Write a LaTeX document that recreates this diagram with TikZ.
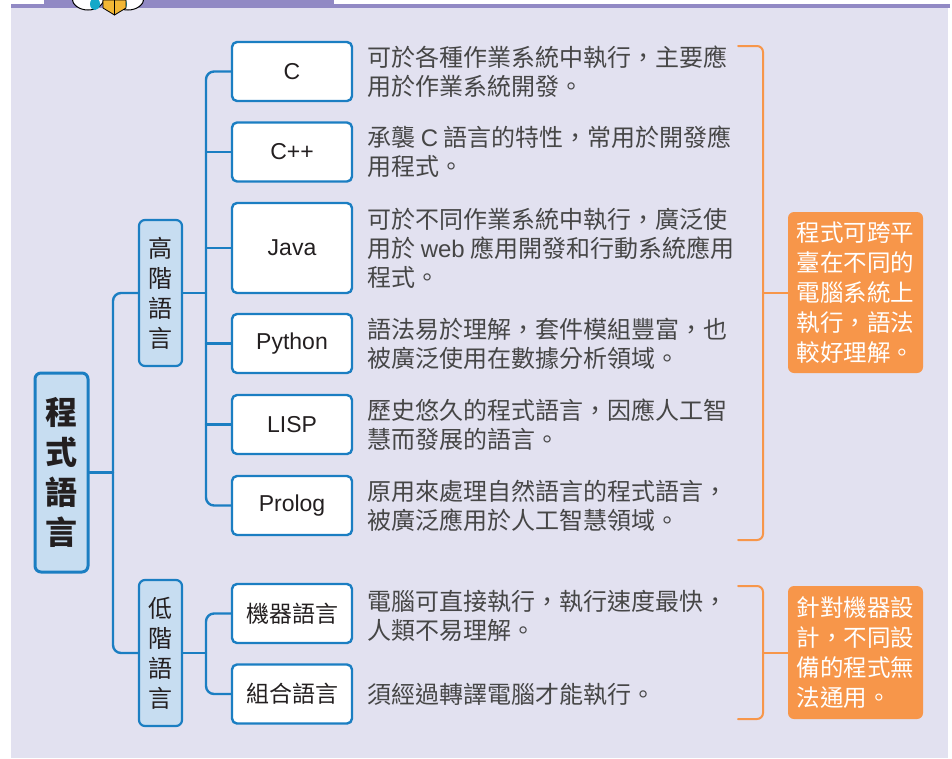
\documentclass[tikz,border=0pt]{standalone}
\usepackage{fontspec}
\setmainfont{Liberation Sans}
\newfontfamily\cjk{Noto Sans CJK TC}
\usetikzlibrary{positioning}

\definecolor{panelbg}{HTML}{E2E1F0}
\definecolor{bandpurple}{HTML}{9189C4}
\definecolor{lineblue}{HTML}{1B7EC2}
\definecolor{boxblue}{HTML}{C7DDF1}
\definecolor{noteorange}{HTML}{F7964A}
\definecolor{txtdark}{HTML}{231F20}
\definecolor{txtgray}{HTML}{464646}
\definecolor{bookyellow}{HTML}{F2B735}
\definecolor{eyecyan}{HTML}{14A9C9}

\tikzset{
  conn/.style={draw=lineblue,line width=2.4pt,rounded corners=8pt},
  brk/.style={draw=noteorange,line width=2pt,rounded corners=6pt},
  lang/.style={draw=lineblue,line width=2.4pt,fill=white,rounded corners=5pt,
    minimum width=120pt,minimum height=59pt,text=txtdark,
    font=\fontsize{23}{27}\selectfont},
  kind/.style={draw=lineblue,line width=2.2pt,fill=boxblue,rounded corners=6pt,
    minimum width=43pt,minimum height=146pt,align=center,inner sep=0pt,
    text=txtdark,font=\cjk\fontsize{24}{30}\selectfont},
  desc/.style={inner sep=0pt,align=left,text=txtgray,
    font=\cjk\fontsize{24}{29}\selectfont},
  note/.style={fill=noteorange,rounded corners=6pt,text=white,align=left,
    inner sep=0pt,minimum width=135pt,font=\cjk\fontsize{23.5}{30}\selectfont},
}

\begin{document}
\begin{tikzpicture}[x=1pt,y=-1pt,line cap=round,line join=round]
  \useasboundingbox (0,0) rectangle (952,758);
  % panel and title band
  \fill[panelbg] (11,7) rectangle (948,758);
  \fill[bandpurple] (44,0) rectangle (334,7);
  \fill[bandpurple] (11,4) rectangle (950,7.5);
  \draw[fill=white,line width=1pt] (88,-2) ellipse (16 and 12)
    (128,-2) ellipse (16 and 12);
  \fill[eyecyan] (95,4) ellipse (5 and 6) (122,4) ellipse (5 and 6);
  \draw[fill=bookyellow,line width=0.8pt] (103,0) -- (126,0) -- (126,8)
    -- (114.5,15) -- (103,8) -- cycle;
  \draw[line width=0.8pt] (114.5,0) -- (114.5,15);

  % root and the two kinds
  \node[kind,line width=3pt,minimum width=53pt,minimum height=199pt,
    font=\cjk\bfseries\fontsize{32}{40}\selectfont] (root) at (61.5,472.5)
    {程\\式\\語\\言};
  \node[kind] (high) at (160.5,293) {高\\階\\語\\言};
  \node[kind] (low) at (160.5,653) {低\\階\\語\\言};

  % languages
  \node[lang] (c) at (292,71.5) {C};
  \node[lang] (cpp) at (292,152) {C++};
  \node[lang,minimum height=90pt] (java) at (292,248) {Java};
  \node[lang] (py) at (292,343.5) {Python};
  \node[lang] (lisp) at (292,424.5) {LISP};
  \node[lang] (prolog) at (292,505.5) {Prolog};
  \node[lang,font=\cjk\fontsize{23}{27}\selectfont] (mach) at (292,613.5) {機器語言};
  \node[lang,font=\cjk\fontsize{23}{27}\selectfont] (asm) at (292,694) {組合語言};

  \node[desc,right=14pt of c] (dc) {可於各種作業系統中執行，主要應\\用於作業系統開發。};
  \node[desc,right=14pt of cpp] (dcpp) {承襲 {\rmfamily C} 語言的特性，常用於開發應\\用程式。};
  \node[desc,right=14pt of java] (djava) {可於不同作業系統中執行，廣泛使\\用於 {\rmfamily web} 應用開發和行動系統應用\\程式。};
  \node[desc,right=14pt of py] (dpy) {語法易於理解，套件模組豐富，也\\被廣泛使用在數據分析領域。};
  \node[desc,right=14pt of lisp] (dlisp) {歷史悠久的程式語言，因應人工智\\慧而發展的語言。};
  \node[desc,right=14pt of prolog] (dprolog) {原用來處理自然語言的程式語言，\\被廣泛應用於人工智慧領域。};
  \node[desc,right=14pt of mach,yshift=-2pt] (dmach) {電腦可直接執行，執行速度最快，\\人類不易理解。};
  \node[desc,right=14pt of asm] (dasm) {須經過轉譯電腦才能執行。};

  % notes
  \node[note,minimum height=161pt] (nhigh) at (855.5,292.5)
    {程式可跨平\\臺在不同的\\電腦系統上\\執行，語法\\較好理解。};
  \node[note,minimum height=133pt] (nlow) at (855.5,652.5)
    {針對機器設\\計，不同設\\備的程式無\\法通用。};

  % tree lines
  \coordinate (rj) at (113,472.5);
  \coordinate (hj) at (206,293);
  \coordinate (lj) at (206,653);
  \draw[conn] (root.east) -- (rj);
  \draw[conn] (high.west) -| (rj) |- (low.west);
  \draw[conn] (high.east) -- (hj);
  \draw[conn] (c.west) -| (hj) |- (prolog.west);
  \foreach \n in {cpp,java,py,lisp}
    \draw[conn] (\n.west -| hj) -- (\n.west);
  \draw[conn] (low.east) -- (lj);
  \draw[conn] (mach.west) -| (lj) |- (asm.west);

  % brackets to the notes
  \coordinate (top1) at (738,46);
  \coordinate (bot1) at (738,540);
  \coordinate (top2) at (738,586);
  \coordinate (bot2) at (738,719);
  \draw[brk] (top1) -- ++(25,0) |- (bot1);
  \draw[brk] (nhigh.west) -- ++(-25,0);
  \draw[brk] (top2) -- ++(25,0) |- (bot2);
  \draw[brk] (nlow.west) -- ++(-25,0);
\end{tikzpicture}
\end{document}
